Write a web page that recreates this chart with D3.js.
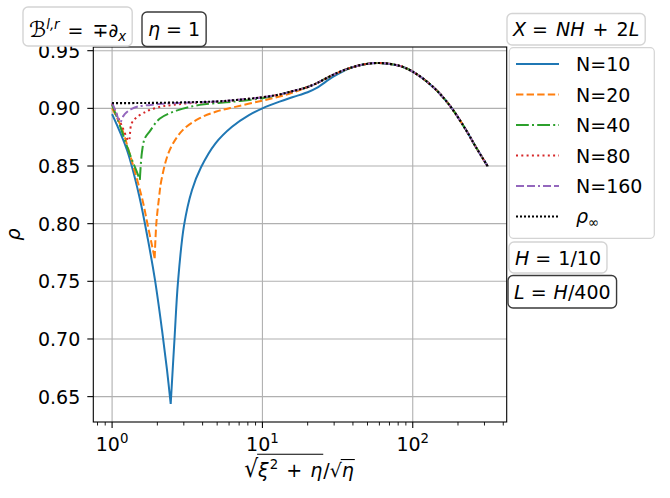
<!DOCTYPE html>
<html><head><meta charset="utf-8">
<script src="https://cdn.jsdelivr.net/npm/d3@7"></script>
<style>body{margin:0;background:#fff} text{font-family:"DejaVu Sans";fill:#000;white-space:pre}</style>
</head><body><svg id="c" width="670" height="498"></svg>
<script>
// ---------- data ----------
const rhoInfX = [1, 1.5, 2, 3, 5, 7, 10, 13, 16, 20, 23, 29.4, 37.9, 49, 63, 82, 100, 136, 175, 226, 263, 316];
const rhoInfY = [0.9045, 0.9046, 0.9048, 0.9052, 0.906, 0.9075, 0.9096, 0.912, 0.915, 0.9185, 0.9218, 0.929, 0.9348, 0.9385, 0.9392, 0.9368, 0.9318, 0.9188, 0.903, 0.8813, 0.8664, 0.8495];

const n10X = [1, 1.256, 1.51, 1.733, 1.929, 2.148, 2.319, 2.454, 2.601, 2.745, 3.008, 3.402, 3.905, 4.875, 6.279, 8.14, 10, 13, 16, 20, 23, 29.4];
const n10Y = [0.895, 0.8639, 0.8249, 0.7859, 0.7512, 0.7078, 0.6731, 0.6436, 0.70, 0.7497, 0.7983, 0.8292, 0.8489, 0.8697, 0.8841, 0.8942, 0.9, 0.9058, 0.9098, 0.914, 0.9178, 0.9272];

const n20X = [1, 1.15, 1.3, 1.49, 1.61, 1.73, 1.85, 1.92, 1.97, 2.05, 2.13, 2.42, 2.96, 3.83, 4.94, 6.71, 10, 13, 16];
const n20Y = [0.900, 0.884, 0.862, 0.835, 0.818, 0.798, 0.78, 0.770, 0.8005, 0.822, 0.838, 0.864, 0.8813, 0.8915, 0.8972, 0.9015, 0.9067, 0.9102, 0.9138];

const n40X = [1, 1.1, 1.215, 1.35, 1.45, 1.53, 1.58, 1.65, 1.78, 2.07, 2.68, 3.83, 6.37, 10];
const n40Y = [0.903, 0.889, 0.8726, 0.856, 0.846, 0.838, 0.862, 0.874, 0.880, 0.891, 0.898, 0.903, 0.9058, 0.9088];

const n80X = [1, 1.08, 1.17, 1.29, 1.345, 1.45, 1.65, 1.78, 2.13, 2.54, 3.2, 5];
const n80Y = [0.904, 0.894, 0.884, 0.872, 0.8866, 0.892, 0.8966, 0.8986, 0.9016, 0.903, 0.9044, 0.9058];

const n160X = [1, 1.06, 1.13, 1.19, 1.25, 1.35, 1.49, 1.8, 2.13, 3];
const n160Y = [0.905, 0.897, 0.888, 0.8935, 0.8966, 0.8995, 0.9016, 0.903, 0.9039, 0.9048];

const seriesNames = ["N=10", "N=20", "N=40", "N=80", "N=160"];
const yTicks = [0.65, 0.70, 0.75, 0.80, 0.85, 0.90, 0.95];
const yTickLabels = ["0.65", "0.70", "0.75", "0.80", "0.85", "0.90", "0.95"];
const xTicks = [1, 10, 100];
const xTickExp = ["0", "1", "2"];

// ---------- layout ----------
const svg = d3.select("#c");
const L = 93.3, R = 506.7, T = 47, B = 422;
const x = d3.scaleLog().domain([Math.pow(10, -0.125), Math.pow(10, 2.625)]).range([L, R]);
const y = d3.scaleLinear().domain([0.628, 0.9532]).range([B, T]);
const FS = 19;

// grid
const grid = svg.append("g");
xTicks.forEach(v => grid.append("line").attr("x1", x(v)).attr("x2", x(v)).attr("y1", T).attr("y2", B)
  .attr("stroke", "#b0b0b0").attr("stroke-width", 1.1));
yTicks.forEach(v => grid.append("line").attr("x1", L).attr("x2", R).attr("y1", y(v)).attr("y2", y(v))
  .attr("stroke", "#b0b0b0").attr("stroke-width", 1.1));

// build series
function merged(hx, hy) {
  const xs = hx.slice(), ys = hy.slice();
  const last = hx[hx.length - 1];
  rhoInfX.forEach((v, i) => { if (v > last * 1.1) { xs.push(v); ys.push(rhoInfY[i]); } });
  return xs.map((v, i) => ({ x: v, y: ys[i] }));
}
const styles = [
  { c: "#1f77b4", d: null, w: 2 },
  { c: "#ff7f0e", d: "7.4,3.2", w: 2 },
  { c: "#2ca02c", d: "12.8,3.2,2,3.2", w: 2 },
  { c: "#d62728", d: "2,3.3", w: 2 },
  { c: "#9467bd", d: "8,3,8,3,2,3", w: 2 },
  { c: "#000000", d: "2,2", w: 2.1 }
];
const series = [
  merged(n10X, n10Y), merged(n20X, n20Y), merged(n40X, n40Y),
  merged(n80X, n80Y), merged(n160X, n160Y),
  rhoInfX.map((v, i) => ({ x: v, y: rhoInfY[i] }))
];
const line = d3.line().x(d => x(d.x)).y(d => y(d.y)).curve(d3.curveCatmullRom.alpha(0.5));
const plot = svg.append("g");
series.forEach((s, k) => {
  // split at the minimum so the cusp stays sharp
  let mi = 0;
  s.forEach((d, i) => { if (d.y < s[mi].y) mi = i; });
  const parts = (k < 5 && mi > 0) ? [s.slice(0, mi + 1), s.slice(mi)] : [s];
  const pathD = parts.map(p => line(p)).join("");
  plot.append("path").attr("d", pathD).attr("fill", "none")
    .attr("stroke", styles[k].c).attr("stroke-width", styles[k].w)
    .attr("stroke-dasharray", styles[k].d).attr("stroke-linejoin", "round");
});

// frame
svg.append("rect").attr("x", L).attr("y", T).attr("width", R - L).attr("height", B - T)
  .attr("fill", "none").attr("stroke", "#000").attr("stroke-width", 1.1);

// y ticks
yTicks.forEach((v, i) => {
  svg.append("line").attr("x1", L - 6).attr("x2", L).attr("y1", y(v)).attr("y2", y(v)).attr("stroke", "#000").attr("stroke-width", 1.1);
  svg.append("text").attr("x", L - 13).attr("y", y(v) + 7).attr("text-anchor", "end").attr("font-size", FS).text(yTickLabels[i]);
});
// x ticks
xTicks.forEach((v, i) => {
  svg.append("line").attr("x1", x(v)).attr("x2", x(v)).attr("y1", B).attr("y2", B + 6).attr("stroke", "#000").attr("stroke-width", 1.1);
  const t = svg.append("text").attr("x", x(v)).attr("y", 451).attr("text-anchor", "middle").attr("font-size", FS);
  t.append("tspan").text("10");
  t.append("tspan").attr("font-size", FS * 0.7).attr("dy", -FS * 0.42).text(xTickExp[i]);
});
const [d0, d1] = x.domain();
for (let e = -1; e <= 2; e++) for (let m = 2; m <= 9; m++) {
  const v = m * Math.pow(10, e);
  if (v < d0 || v > d1) continue;
  svg.append("line").attr("x1", x(v)).attr("x2", x(v)).attr("y1", B).attr("y2", B + 3.5).attr("stroke", "#000").attr("stroke-width", 0.9);
}

// math text helper
function renderMath(g, x0, base, pieces, fs) {
  let cx = x0;
  pieces.forEach(p => {
    const size = (p.sup || p.sub) ? fs * 0.7 : fs * (p.fz || 1);
    const dy = p.sup ? -fs * 0.42 : p.sub ? fs * 0.22 : 0;
    const t = g.append("text").attr("x", cx).attr("y", base + dy).attr("font-size", size)
      .attr("font-style", p.it ? "italic" : "normal").text(p.t);
    const sx = p.sx || 1, sy = p.sy || 1;
    if (sx !== 1 || sy !== 1) t.attr("transform", `translate(${cx},${base}) scale(${sx},${sy}) translate(${-cx},${-base})`);
    const w = t.node().getComputedTextLength() * sx;
    p._x0 = cx; p._x1 = cx + w;
    cx += w + (p.gap || 0);
  });
  return cx - x0;
}
function box(x0, base, pieces, top, bottom, dark, pad) {
  const g = svg.append("g");
  const r = g.append("rect");
  const tg = g.append("g");
  const w = renderMath(tg, x0, base, pieces, FS);
  r.attr("x", x0 - pad).attr("y", top).attr("width", w + 2 * pad).attr("height", bottom - top)
    .attr("rx", 5).attr("fill", "#fff").attr("stroke", dark ? "#3a3a3a" : "#d4d4d4").attr("stroke-width", 1.4);
}
box(29, 37, [{ t: "ℬ", fz: 1.15 }, { t: "l,r", it: true, sup: true, gap: 2 }, { t: " = ", gap: 3 }, { t: "∓∂" }, { t: "x", it: true, sub: true }], 7, 46, false, 6);
box(148, 36, [{ t: "η", it: true }, { t: " = 1" }], 12, 46.5, true, 6);
box(513, 36, [{ t: "X", it: true }, { t: " = ", gap: 2 }, { t: "NH", it: true, gap: 2 }, { t: " + ", gap: 2 }, { t: "2" }, { t: "L", it: true }], 13.5, 45, false, 6);
box(515, 265, [{ t: "H", it: true }, { t: " = ", gap: 1 }, { t: "1/10" }], 242, 273, false, 6);
box(514, 299, [{ t: "L", it: true }, { t: " = ", gap: 1 }, { t: "H", it: true }, { t: "/400" }], 275.5, 308, true, 6);

// legend
const lg = svg.append("g");
lg.append("rect").attr("x", 509.3).attr("y", 47.7).attr("width", 145).attr("height", 190.6).attr("rx", 4)
  .attr("fill", "#fff").attr("stroke", "#d4d4d4").attr("stroke-width", 1.2);
const rowY = d => 64 + d * 30.5;
styles.forEach((s, k) => {
  lg.append("line").attr("x1", 516).attr("x2", 559).attr("y1", rowY(k)).attr("y2", rowY(k))
    .attr("stroke", s.c).attr("stroke-width", s.w).attr("stroke-dasharray", s.d);
  if (k < 5) {
    lg.append("text").attr("x", 576).attr("y", rowY(k) + 7).attr("font-size", FS).text(seriesNames[k]);
  } else {
    renderMath(lg, 576, rowY(k) + 6.5, [{ t: "ρ", it: true }, { t: "∞", sub: true }], FS);
  }
});

// axis labels
svg.append("text").attr("transform", `translate(20,${(T + B) / 2}) rotate(-90)`)
  .attr("text-anchor", "middle").attr("font-size", FS).attr("font-style", "italic").text("ρ");

const xg = svg.append("g");
const xp = [
  { t: "√", sy: 1.3, sx: 1.15 }, { t: "ξ", it: true, gap: 1 }, { t: "2", sup: true, gap: 2 }, { t: " + ", gap: 2 }, { t: "η", it: true, gap: 1 },
  { t: "/" }, { t: "√" }, { t: "η", it: true, gap: 2 }
];
const base = 477;
const wx = renderMath(xg, 0, base, xp, FS);
xg.attr("transform", `translate(${(L + R) / 2 - wx / 2},0)`);
xg.append("line").attr("x1", xp[0]._x1 - 1).attr("x2", xp[4]._x1 + 1).attr("y1", base - FS * 1.2).attr("y2", base - FS * 1.2)
  .attr("stroke", "#000").attr("stroke-width", 1.1);
xg.append("line").attr("x1", xp[6]._x1 - 1).attr("x2", xp[7]._x1 + 1).attr("y1", base - FS * 0.92).attr("y2", base - FS * 0.92)
  .attr("stroke", "#000").attr("stroke-width", 1.1);
</script></body></html>
